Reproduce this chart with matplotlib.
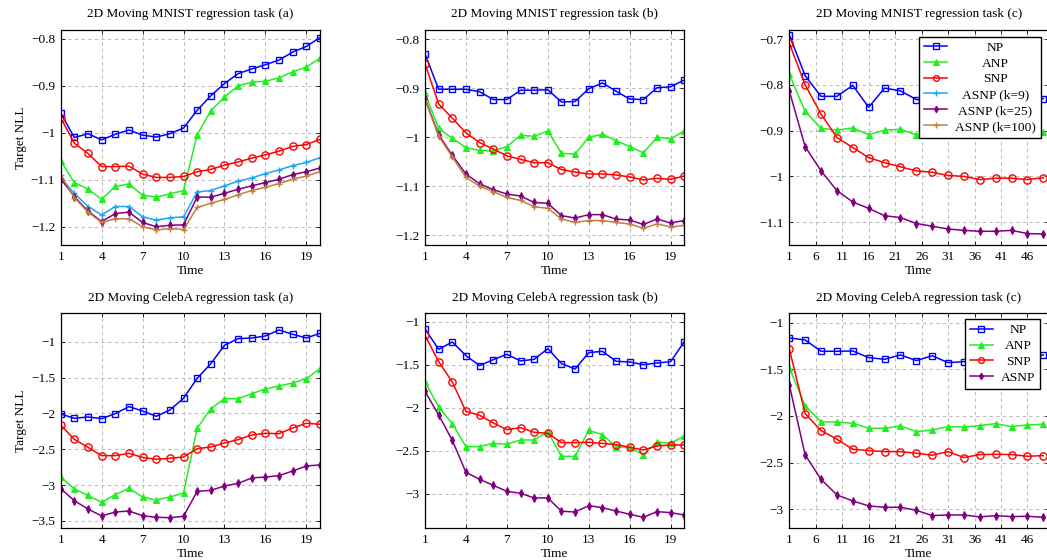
import numpy as np
import matplotlib
matplotlib.use("Agg")
import matplotlib.pyplot as plt
from matplotlib.ticker import MultipleLocator, FuncFormatter
from matplotlib.lines import Line2D
from matplotlib.offsetbox import VPacker, DrawingArea

plt.rcParams["font.family"] = ["Liberation Serif", "DejaVu Serif"]
plt.rcParams["font.size"] = 9.5

# time axes
t20 = np.arange(1, 21)
t50 = np.arange(1, 50, 3)

# 2D Moving MNIST (a)
mn_a_np = [-0.958, -1.010, -1.002, -1.015, -1.003, -0.994, -1.005, -1.009, -1.002, -0.990,
           -0.952, -0.921, -0.895, -0.874, -0.864, -0.855, -0.845, -0.828, -0.816, -0.797]
mn_a_anp = [-1.060, -1.106, -1.120, -1.142, -1.114, -1.109, -1.133, -1.137, -1.130, -1.123,
            -1.004, -0.953, -0.924, -0.900, -0.892, -0.890, -0.883, -0.870, -0.860, -0.841]
mn_a_snp = [-0.968, -1.022, -1.044, -1.072, -1.072, -1.071, -1.088, -1.095, -1.095, -1.093,
            -1.083, -1.078, -1.069, -1.062, -1.054, -1.047, -1.039, -1.029, -1.025, -1.014]
mn_a_k9 = [-1.096, -1.129, -1.157, -1.175, -1.157, -1.157, -1.179, -1.186, -1.181, -1.179,
           -1.126, -1.123, -1.113, -1.103, -1.096, -1.087, -1.079, -1.070, -1.063, -1.053]
mn_a_k25 = [-1.098, -1.136, -1.167, -1.189, -1.172, -1.169, -1.191, -1.200, -1.197, -1.196,
            -1.137, -1.137, -1.129, -1.120, -1.113, -1.106, -1.099, -1.089, -1.083, -1.075]
mn_a_k100 = [-1.090, -1.138, -1.169, -1.191, -1.183, -1.183, -1.200, -1.207, -1.204, -1.206,
             -1.159, -1.150, -1.142, -1.132, -1.123, -1.116, -1.108, -1.099, -1.092, -1.083]

# 2D Moving MNIST (b)
mn_b_np = [-0.830, -0.902, -0.902, -0.902, -0.907, -0.923, -0.923, -0.904, -0.904, -0.903,
           -0.928, -0.927, -0.901, -0.889, -0.906, -0.922, -0.923, -0.899, -0.897, -0.883]
mn_b_anp = [-0.910, -0.982, -1.002, -1.021, -1.027, -1.028, -1.019, -0.996, -0.998, -0.987,
            -1.033, -1.034, -1.000, -0.994, -1.007, -1.019, -1.032, -1.000, -1.003, -0.987]
mn_b_snp = [-0.850, -0.932, -0.961, -0.991, -1.011, -1.024, -1.038, -1.045, -1.052, -1.052,
            -1.066, -1.071, -1.075, -1.075, -1.077, -1.081, -1.087, -1.084, -1.086, -1.079]
mn_b_k25 = [-0.921, -0.995, -1.037, -1.075, -1.095, -1.107, -1.116, -1.120, -1.133, -1.135,
            -1.160, -1.165, -1.158, -1.158, -1.167, -1.169, -1.178, -1.167, -1.175, -1.170]
mn_b_k100 = [-0.923, -0.998, -1.040, -1.082, -1.100, -1.111, -1.123, -1.129, -1.142, -1.145,
             -1.167, -1.174, -1.170, -1.170, -1.174, -1.177, -1.186, -1.177, -1.183, -1.180]

# 2D Moving MNIST (c)
mn_c_np = [-0.691, -0.780, -0.825, -0.825, -0.801, -0.849, -0.807, -0.813, -0.832,
           -0.835, -0.820, -0.830, -0.845, -0.825, -0.830, -0.840, -0.830]
mn_c_anp = [-0.777, -0.858, -0.895, -0.899, -0.894, -0.909, -0.899, -0.897, -0.909,
            -0.905, -0.900, -0.910, -0.900, -0.905, -0.900, -0.910, -0.904]
mn_c_snp = [-0.709, -0.800, -0.864, -0.915, -0.937, -0.959, -0.970, -0.979, -0.988,
            -0.991, -0.998, -1.000, -1.007, -1.004, -1.004, -1.007, -1.003]
mn_c_asnp = [-0.813, -0.935, -0.988, -1.031, -1.056, -1.070, -1.086, -1.090, -1.103,
             -1.109, -1.115, -1.118, -1.120, -1.120, -1.118, -1.125, -1.126]

# 2D Moving CelebA (a)
ce_a_np = [-2.008, -2.069, -2.050, -2.073, -2.004, -1.906, -1.967, -2.041, -1.953, -1.790,
           -1.511, -1.307, -1.051, -0.958, -0.949, -0.921, -0.837, -0.898, -0.949, -0.884]
ce_a_anp = [-2.887, -3.054, -3.143, -3.240, -3.133, -3.045, -3.166, -3.207, -3.166, -3.110,
            -2.208, -1.934, -1.795, -1.795, -1.725, -1.660, -1.618, -1.576, -1.516, -1.376]
ce_a_snp = [-2.162, -2.362, -2.473, -2.589, -2.589, -2.557, -2.613, -2.640, -2.626, -2.608,
            -2.492, -2.468, -2.413, -2.366, -2.301, -2.278, -2.283, -2.204, -2.138, -2.152]
ce_a_asnp = [-3.049, -3.217, -3.333, -3.430, -3.375, -3.361, -3.426, -3.449, -3.454, -3.435,
             -3.087, -3.073, -3.012, -2.975, -2.900, -2.887, -2.868, -2.803, -2.733, -2.719]

# 2D Moving CelebA (b)
ce_b_np = [-1.085, -1.322, -1.236, -1.395, -1.512, -1.442, -1.380, -1.457, -1.438, -1.314,
           -1.488, -1.550, -1.360, -1.345, -1.461, -1.469, -1.500, -1.481, -1.465, -1.233]
ce_b_anp = [-1.702, -1.992, -2.186, -2.453, -2.453, -2.415, -2.426, -2.376, -2.376, -2.279,
            -2.566, -2.566, -2.264, -2.314, -2.457, -2.457, -2.550, -2.399, -2.415, -2.329]
ce_b_snp = [-1.159, -1.465, -1.702, -2.043, -2.089, -2.178, -2.256, -2.233, -2.287, -2.298,
            -2.407, -2.407, -2.403, -2.415, -2.430, -2.461, -2.492, -2.446, -2.434, -2.434]
ce_b_asnp = [-1.810, -2.085, -2.380, -2.752, -2.833, -2.903, -2.973, -2.996, -3.050, -3.050,
             -3.205, -3.213, -3.140, -3.163, -3.202, -3.240, -3.275, -3.209, -3.221, -3.248]

# 2D Moving CelebA (c)
ce_c_np = [-1.164, -1.186, -1.307, -1.307, -1.304, -1.375, -1.393, -1.346, -1.407,
           -1.354, -1.429, -1.418, -1.400, -1.380, -1.410, -1.390, -1.346]
ce_c_anp = [-1.482, -1.893, -2.064, -2.064, -2.079, -2.132, -2.132, -2.107, -2.168,
            -2.150, -2.114, -2.118, -2.104, -2.082, -2.114, -2.096, -2.089]
ce_c_snp = [-1.282, -1.975, -2.157, -2.250, -2.357, -2.371, -2.382, -2.382, -2.400,
            -2.421, -2.382, -2.446, -2.414, -2.411, -2.414, -2.432, -2.425]
ce_c_asnp = [-1.668, -2.418, -2.679, -2.846, -2.911, -2.964, -2.979, -2.979, -3.011,
             -3.068, -3.061, -3.061, -3.082, -3.068, -3.079, -3.075, -3.086]

STY = {
    "NP": dict(color="#0000ff", marker="s", mfc="none", ms=4.8, mew=1.0),
    "ANP": dict(color="#22ee22", marker="^", ms=4.8, mew=0.8),
    "SNP": dict(color="#ff0000", marker="o", mfc="none", ms=5.2, mew=1.0),
    "ASNP (k=9)": dict(color="#1aa6f5", marker="+", ms=5, mew=1.0),
    "ASNP (k=25)": dict(color="#800080", marker="d", ms=4.2, mew=0.8),
    "ASNP (k=100)": dict(color="#bf8040", marker="+", ms=5, mew=1.0),
}

fig = plt.figure(figsize=(10.47, 5.6), dpi=100)
W, H = 1047.0, 560.0


def make_ax(left_px, top_px, ylim, ystep, xticks, xlim, title, ylabel=False):
    ax = fig.add_axes([left_px / W, 1 - (top_px + 215) / H, 259.3 / W, 215 / H])
    ax.set_xlim(*xlim)
    ax.set_ylim(*ylim)
    ax.set_xticks(xticks)
    ax.yaxis.set_major_locator(MultipleLocator(ystep))
    ax.yaxis.set_major_formatter(FuncFormatter(lambda v, p: ("%g" % round(v, 6)).replace("-", "\u2212")))
    ax.grid(True, color="#bdbdbd", linestyle=(0, (3, 3)), linewidth=0.8)
    ax.set_axisbelow(True)
    ax.tick_params(direction="in", top=True, right=True, length=3, width=0.6, labelsize=9.5, pad=4)
    for s in ax.spines.values():
        s.set_linewidth(0.9)
    ax.set_title(title, fontsize=9.5, pad=9)
    ax.set_xlabel("Time", fontsize=9.5, labelpad=1.5)
    if ylabel:
        ax.set_ylabel("Target NLL", fontsize=9.5, labelpad=3)
    return ax


def draw(ax, x, series):
    for name, ys in series:
        ax.plot(x, ys, lw=1.1, label=name, **STY[name])


def center_legend_text(leg):
    # pgfplots centres the legend text next to the handles
    r = fig.canvas.get_renderer()
    col = leg._legend_handle_box.get_children()[0]
    rows = col.get_children()
    widths = [row.get_children()[1].get_bbox(r).width for row in rows]
    maxw = max(widths) * 72.0 / fig.dpi
    for row in rows:
        hb, tb = row.get_children()[:2]
        row._children = [hb, VPacker(pad=0, sep=0, align="center",
                                     children=[tb, DrawingArea(maxw, 0)])]


leg_kw = dict(loc="upper right", borderaxespad=0, fancybox=False, edgecolor="black",
              framealpha=1, handlelength=1.7, labelspacing=0.25, borderpad=0.35,
              handletextpad=0.6, markerscale=0.8, fontsize=9.7)

# top row
ax1 = make_ax(60.7, 30, (-1.239, -0.781), 0.1, np.arange(1, 21, 3), (1, 20),
              "2D Moving MNIST regression task (a)", ylabel=True)
draw(ax1, t20, [("NP", mn_a_np), ("ANP", mn_a_anp), ("SNP", mn_a_snp),
                ("ASNP (k=9)", mn_a_k9), ("ASNP (k=25)", mn_a_k25), ("ASNP (k=100)", mn_a_k100)])

ax2 = make_ax(425, 30, (-1.22, -0.781), 0.1, np.arange(1, 21, 3), (1, 20),
              "2D Moving MNIST regression task (b)")
draw(ax2, t20, [("NP", mn_b_np), ("ANP", mn_b_anp), ("SNP", mn_b_snp),
                ("ASNP (k=25)", mn_b_k25), ("ASNP (k=100)", mn_b_k100)])

ax3 = make_ax(789.3, 30, (-1.15, -0.68), 0.1, np.arange(1, 50, 5), (1, 50),
              "2D Moving MNIST regression task (c)")
draw(ax3, t50, [("NP", mn_c_np), ("ANP", mn_c_anp), ("SNP", mn_c_snp), ("ASNP (k=25)", mn_c_asnp)])
names3 = ["NP", "ANP", "SNP", "ASNP (k=9)", "ASNP (k=25)", "ASNP (k=100)"]
handles3 = [Line2D([], [], lw=1.1, **STY[n]) for n in names3]
leg3 = ax3.legend(handles3, names3, bbox_to_anchor=(0.9695, 0.969), **leg_kw)

# bottom row
ax4 = make_ax(60.7, 313.3, (-3.602, -0.605), 0.5, np.arange(1, 21, 3), (1, 20),
              "2D Moving CelebA regression task (a)", ylabel=True)
draw(ax4, t20, [("NP", ce_a_np), ("ANP", ce_a_anp), ("SNP", ce_a_snp), ("ASNP (k=25)", ce_a_asnp)])

ax5 = make_ax(425, 313.3, (-3.403, -0.903), 0.5, np.arange(1, 21, 3), (1, 20),
              "2D Moving CelebA regression task (b)")
draw(ax5, t20, [("NP", ce_b_np), ("ANP", ce_b_anp), ("SNP", ce_b_snp), ("ASNP (k=25)", ce_b_asnp)])

ax6 = make_ax(789.3, 313.3, (-3.204, -0.90), 0.5, np.arange(1, 50, 5), (1, 50),
              "2D Moving CelebA regression task (c)")
draw(ax6, t50, [("NP", ce_c_np), ("ANP", ce_c_anp), ("SNP", ce_c_snp), ("ASNP (k=25)", ce_c_asnp)])
names6 = ["NP", "ANP", "SNP", "ASNP"]
handles6 = [Line2D([], [], lw=1.1, **STY[n if n != "ASNP" else "ASNP (k=25)"]) for n in names6]
leg6 = ax6.legend(handles6, names6, bbox_to_anchor=(0.967, 0.972), **leg_kw)

center_legend_text(leg3)
center_legend_text(leg6)

fig.savefig("out.png", dpi=100)
